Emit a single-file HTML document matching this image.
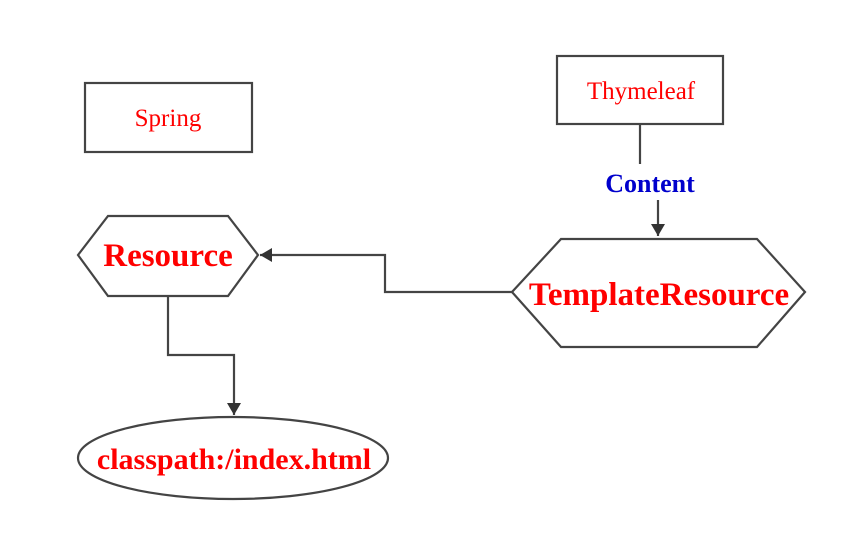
<!DOCTYPE html>
<html><head><style>html,body{margin:0;padding:0;background:#fff;}svg{display:block}</style></head>
<body>
<svg width="862" height="539" viewBox="0 0 862 539" xmlns="http://www.w3.org/2000/svg" font-family="Liberation Serif, serif">
<defs><marker id="b" markerWidth="12" markerHeight="14" refX="12" refY="7" orient="auto" markerUnits="userSpaceOnUse"><path d="M0,0 L12,7 L0,14 Z" fill="#333"/></marker></defs>
<g fill="none" stroke="#444" stroke-width="2.2">
<rect x="85" y="83" width="167" height="69"/>
<rect x="557" y="56" width="166" height="68"/>
<polygon points="78,255 108,216 228,216 258,255 228,296 108,296"/>
<polygon points="512,292 561,239 757,239 805,292 757,347 561,347"/>
<ellipse cx="233" cy="458" rx="155" ry="41"/>
<line x1="640" y1="124" x2="640" y2="164"/>
<path d="M658 200 V236" marker-end="url(#b)"/>
<path d="M512 292 H385 V255 H260" marker-end="url(#b)"/>
<path d="M168 296 V355 H234 V415" marker-end="url(#b)"/>
</g>
<g fill="#f00" text-anchor="middle">
<text x="168" y="126" font-size="25">Spring</text>
<text x="641" y="99" font-size="25">Thymeleaf</text>
<text x="168" y="266" font-size="33" font-weight="bold">Resource</text>
<text x="659" y="305" font-size="33" font-weight="bold">TemplateResource</text>
<text x="234" y="469" font-size="30" font-weight="bold">classpath:/index.html</text>
</g>
<text x="650" y="192" font-size="26" font-weight="bold" fill="#0000cc" text-anchor="middle">Content</text>
</svg>
</body></html>
